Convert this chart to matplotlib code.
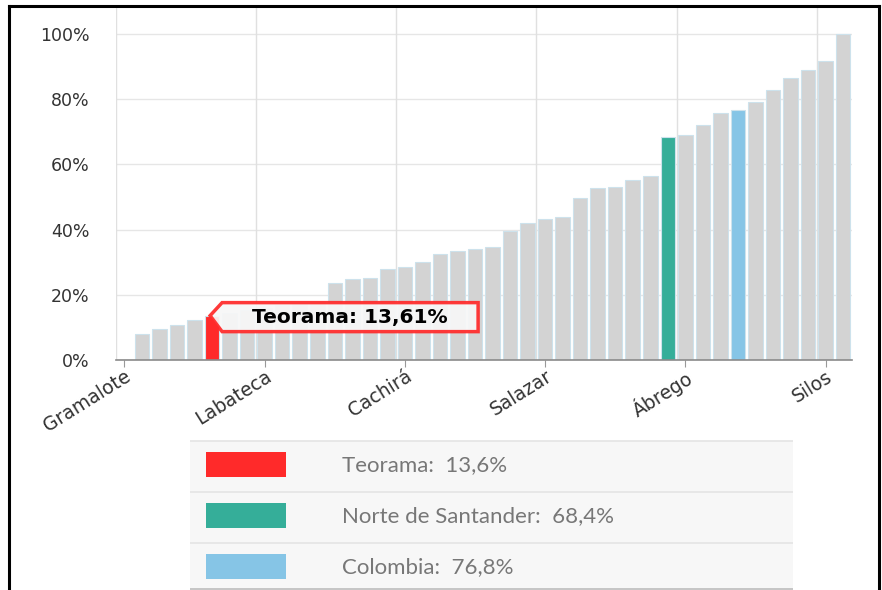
import matplotlib
matplotlib.use('Agg')
import matplotlib.pyplot as plt
from matplotlib.patches import Rectangle, Polygon
from matplotlib.lines import Line2D
import numpy as np

# Municipal values (%), sorted ascending; only every 8th name is shown on the axis
values = [0.0, 8.1, 9.6, 10.7, 12.3, 13.61, 14.5, 15.2, 16.0, 16.8, 17.3, 17.9,
          23.7, 24.8, 25.3, 27.9, 28.6, 30.2, 32.5, 33.5, 33.9, 34.8, 39.7, 42.0,
          43.1, 43.9, 49.6, 52.7, 53.1, 55.3, 56.5, 68.4, 69.0, 72.2, 75.9, 76.8,
          79.0, 82.8, 86.6, 89.0, 91.6, 100.0]
tick_names = ['Gramalote', 'Labateca', 'Cachirá', 'Salazar', 'Ábrego', 'Silos']
tick_pos = [0, 8, 16, 24, 32, 40]
yticks = [0, 20, 40, 60, 80, 100]

highlight_idx = [5, 31, 35]
highlight_col = ['#ff2a2a', '#35ae99', '#86c5e6']
legend_labels = ['Teorama:  13,6%', 'Norte de Santander:  68,4%', 'Colombia:  76,8%']
tooltip_text = 'Teorama: 13,61%'

W, H = 882, 590
fig = plt.figure(figsize=(W / 100, H / 100), dpi=100)
fig.patch.set_facecolor('white')

# main plot area
ax = fig.add_axes([115.7 / W, 1 - 360 / H, (851.8 - 115.7) / W, (360 - 7) / H])
colors = ['#d3d3d3'] * len(values)
for i, c in zip(highlight_idx, highlight_col):
    colors[i] = c
x = np.arange(len(values))
ax.bar(x, values, width=0.83, color=colors, edgecolor='#cde2ec', linewidth=0.8, zorder=3)

ax.set_xlim(-0.5, len(values) - 0.5)
ax.set_ylim(0, (360 - 7) / 3.26)
ax.set_yticks(yticks)
ax.set_yticklabels(['{}%'.format(v) for v in yticks], fontsize=12.5, color='#333333')
ax.set_xticks(tick_pos)
ax.set_xticklabels(tick_names, rotation=32, ha='right', va='top',
                   rotation_mode='anchor', fontsize=13.5, color='#333333')
ax.tick_params(axis='x', length=5, color='#999999', pad=0)
ax.tick_params(axis='y', length=0, pad=19)
for s in ['top', 'right', 'left']:
    ax.spines[s].set_visible(False)
ax.spines['bottom'].set_color('#8a8a8a')
ax.spines['bottom'].set_linewidth(1.2)
ax.spines['bottom'].set_zorder(4)

# grid: horizontal at ticks, vertical between categories every 8
for v in yticks:
    ax.axhline(v, color='#e6e6e6', lw=1, zorder=1)
for k in range(0, len(values), 8):
    ax.axvline(k - 0.5, color='#e0e0e0', lw=1, zorder=1)

# tooltip callout for Teorama
fig.canvas.draw()
tx, ty = ax.transData.transform((highlight_idx[0], values[highlight_idx[0]]))
tx -= 2
box_l, box_r = tx + 12, tx + 268
box_t, box_b = ty + 13, ty - 16
shape = Polygon([(tx, ty), (box_l, box_t), (box_r, box_t), (box_r, box_b), (box_l, box_b)],
                closed=True, transform=None, facecolor='#f7f7f7', alpha=0.93,
                edgecolor='#ff2a2a', lw=2.5, zorder=10)
fig.add_artist(shape)
fig.text((box_l + box_r) / 2 / W, (box_t + box_b) / 2 / H, tooltip_text,
         ha='center', va='center', fontsize=14.5, fontweight='bold',
         color='black', zorder=11)

# legend table
lax = fig.add_axes([190 / W, 0, (793 - 190) / W, 150 / H])
lax.set_xlim(0, 603)
lax.set_ylim(150, 0)
lax.axis('off')
row_h = 51
for k, (lab, col) in enumerate(zip(legend_labels, highlight_col)):
    top = 1 + k * row_h
    lax.add_patch(Rectangle((0, top), 603, row_h, facecolor='#f7f7f7',
                            edgecolor='none'))
    lax.plot([0, 603], [top, top], color='#e4e4e4', lw=1.2)
    lax.add_patch(Rectangle((16, top + 11), 80, 25, facecolor=col,
                            edgecolor='none'))
    lax.text(152, top + 24, lab, fontsize=16, color='#777777',
             family='Lato', va='center', ha='left')
lax.plot([0, 603], [149, 149], color='#bdbdbd', lw=1.2)

# black frame of the screenshot
fig.add_artist(Line2D([9 / W, 9 / W], [0, 1 - 6 / H], color='black', lw=2.2))
fig.add_artist(Line2D([9 / W, 879 / W], [1 - 6 / H, 1 - 6 / H], color='black', lw=2.2))
fig.add_artist(Line2D([879 / W, 879 / W], [0, 1 - 6 / H], color='black', lw=2.2))

plt.savefig('out.png', dpi=100)
